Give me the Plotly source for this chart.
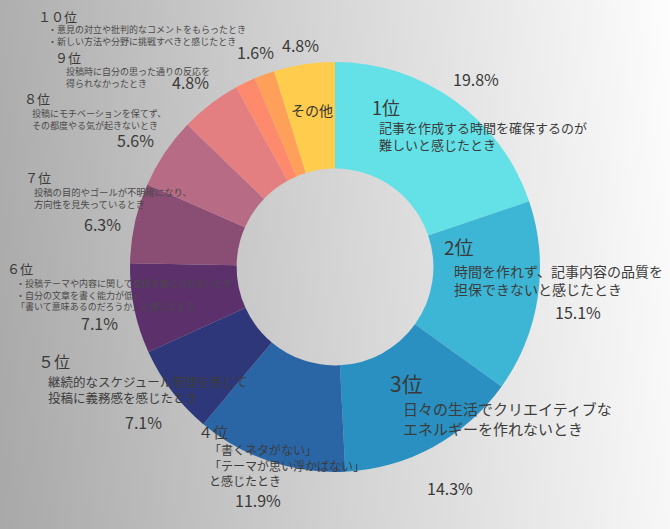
import numpy as np
import plotly.graph_objects as go

# pie data (clockwise from 12 o'clock)
ranks = ["1位", "2位", "3位", "4位", "5位", "6位", "7位", "8位", "9位", "10位", "10位", "その他"]
values = [19.8, 15.1, 14.3, 11.9, 7.1, 7.1, 6.3, 5.6, 4.8, 1.6, 1.6, 4.8]
colors = ["#63e1e6", "#3db6d6", "#2a90c2", "#2a66a6", "#2f377b", "#5b306b",
          "#8a4d74", "#b76b85", "#e37f81", "#fd8a6c", "#ffa05a", "#ffcc4d"]

# label texts
rank_titles = ["1位", "2位", "3位", "４位", "５位", "６位", "７位", "８位", "９位", "１０位"]
descriptions = [
    "記事を作成する時間を確保するのが<br>難しいと感じたとき",
    "時間を作れず、記事内容の品質を<br>担保できないと感じたとき",
    "日々の生活でクリエイティブな<br>エネルギーを作れないとき",
    "「書くネタがない」<br>「テーマが思い浮かばない」<br>と感じたとき",
    "継続的なスケジュール管理を感じて<br>投稿に義務感を感じたとき",
    "・投稿テーマや内容に関して自信を感じられないとき<br>・自分の文章を書く能力が低く<br>「書いて意味あるのだろうか」と感じたとき",
    "投稿の目的やゴールが不明確になり、<br>方向性を見失っているとき",
    "投稿にモチベーションを保てず、<br>その都度やる気が起きないとき",
    "投稿時に自分の思った通りの反応を<br>得られなかったとき",
    "・意見の対立や批判的なコメントをもらったとき<br>・新しい方法や分野に挑戦すべきと感じたとき",
]

W, H = 670, 529
FONT = "Noto Sans CJK JP"

# label placement in pixels: (x, y, size)
title_pos = [(370, 107, 18), (442, 246, 19), (388, 383, 21), (196, 431, 15), (36, 361, 16),
             (5, 268, 13), (23, 177, 13), (22, 98, 13), (53, 57, 13), (36, 17, 13)]
desc_pos = [(377, 136, 13), (452, 280, 14), (401, 418, 15), (207, 465, 12), (46, 389, 12.5),
            (14, 295, 9), (32, 198, 9.3), (30, 119, 9), (64, 78, 9), (46, 36, 9)]
pct_pos = [(476, 79), (578, 312), (450, 488), (258, 500), (143, 422), (100, 323),
           (102, 224), (135, 140), (190, 82), (255, 52), None, (300, 45)]

fig = go.Figure()

# gradient backdrop
gx = np.linspace(0, 1, 120)
gy = np.linspace(0, 1, 60)
gz = gx[None, :] + 0.08 * gy[:, None]
fig.add_trace(go.Heatmap(x=gx, y=gy, z=gz, showscale=False, hoverinfo="skip",
                         colorscale=[[0, "#a8a8a8"], [0.5, "#d4d4d4"], [1, "#fdfdfd"]]))

cx, cy, r = 335, 267, 205
fig.add_trace(go.Pie(
    labels=[f"{n}-{i}" for i, n in enumerate(ranks)], values=values, sort=False,
    direction="clockwise", rotation=0, hole=0.48,
    marker=dict(colors=colors, line=dict(width=0)),
    textinfo="none", showlegend=False,
    domain=dict(x=[(cx - r) / W, (cx + r) / W], y=[1 - (cy + r) / H, 1 - (cy - r) / H]),
))

ann = []
def add(text, px, py, size, color="#333", xanchor="left"):
    ann.append(dict(text=text, x=px / W, y=1 - py / H, xref="paper", yref="paper",
                    xanchor=xanchor, yanchor="middle", showarrow=False, align="left",
                    font=dict(family=FONT, size=size, color=color)))

for t, (px, py, s) in zip(rank_titles, title_pos):
    add(t, px, py, s, color="#3a3a3a")
for d, (px, py, s) in zip(descriptions, desc_pos):
    add(d, px, py, s, color="#3c3c3c" if s > 10 else "#4a4a4a")
for v, p in zip(values, pct_pos):
    if p is not None:
        add(f"{v}%", p[0], p[1], 16, color="#3a3a3a", xanchor="center")
add("その他", 312, 110, 14, color="#333", xanchor="center")

fig.update_layout(
    width=W, height=H, margin=dict(l=0, r=0, t=0, b=0),
    paper_bgcolor="#d0d0d0", plot_bgcolor="#d0d0d0",
    xaxis=dict(visible=False, range=[0, 1], domain=[0, 1], fixedrange=True),
    yaxis=dict(visible=False, range=[0, 1], domain=[0, 1], fixedrange=True),
    annotations=ann,
)

fig.write_html("out.html", config={"displayModeBar": False},
               post_script="document.body.style.margin='0';")
